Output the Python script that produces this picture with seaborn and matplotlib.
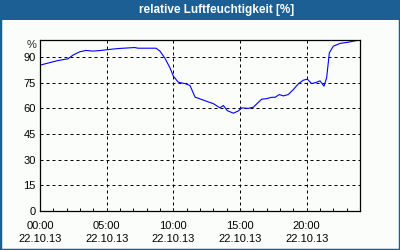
import matplotlib
matplotlib.use("Agg")
import matplotlib.pyplot as plt
import seaborn as sns
import pandas as pd
from matplotlib.patches import Rectangle
from matplotlib.ticker import MultipleLocator
import matplotlib.transforms as mtransforms

# ---- data ----
hours = [0.0, 0.6, 1.35, 2.1, 2.48, 2.98, 3.45, 3.98, 4.58, 5.23, 5.85, 7.1, 7.35,
         8.7, 9.0, 9.38, 9.75, 10.0, 10.37, 10.88, 11.25, 11.63, 12.13, 12.62, 13.0,
         13.5, 13.75, 14.05, 14.5, 14.87, 15.13, 15.62, 16.0, 16.25, 16.63, 17.0,
         17.38, 17.63, 17.95, 18.25, 18.62, 19.0, 19.38, 19.75, 20.05, 20.38, 20.75,
         21.0, 21.3, 21.5, 21.7, 22.0, 22.5, 23.13, 23.75]
humidity = [85.3, 86.5, 88.0, 89.0, 91.2, 93.1, 93.9, 93.5, 93.9, 94.5, 95.0, 95.6, 95.2,
            95.2, 93.5, 89.2, 83.7, 78.9, 75.3, 74.5, 73.4, 66.6, 65.2, 63.8, 62.8,
            60.3, 61.7, 58.7, 57.2, 58.5, 60.3, 60.0, 60.7, 62.6, 65.4, 65.7,
            66.5, 66.5, 68.1, 67.3, 68.1, 71.0, 74.4, 76.5, 77.1, 74.5, 75.3,
            76.1, 73.0, 78.0, 92.5, 96.4, 98.0, 98.7, 99.7]
x_ticks = [0, 5, 10, 15, 20]
x_labels = ["00:00\n22.10.13", "05:00\n22.10.13", "10:00\n22.10.13",
            "15:00\n22.10.13", "20:00\n22.10.13"]
y_ticks = [0, 15, 30, 45, 60, 75, 90]
title = "relative Luftfeuchtigkeit [%]"

df = pd.DataFrame({"hour": hours, "rh": humidity})

sns.set_style("white")
plt.rcParams["font.family"] = ["Liberation Sans", "DejaVu Sans"]

BLUE = "#1c5f95"
BG = "#fbfdfb"

fig = plt.figure(figsize=(4, 2.5), dpi=100)
fig.patch.set_facecolor(BG)
# frame and title bar
fig.patches.append(Rectangle((0, 0), 1, 1, transform=fig.transFigure,
                             facecolor="none", edgecolor=BLUE, linewidth=2.5, zorder=0))
fig.patches.append(Rectangle((0, 1 - 20 / 250), 1, 20 / 250, transform=fig.transFigure,
                             facecolor=BLUE, edgecolor="none", zorder=1))
fig.text(217 / 400, 1 - 10.5 / 250, title, color="white", fontsize=8.5,
         fontweight="bold", ha="center", va="center")

ax = fig.add_axes([40 / 400, 1 - 211 / 250, 320 / 400, 171 / 250])
ax.set_facecolor(BG)
sns.lineplot(data=df, x="hour", y="rh", ax=ax, color="#0000ff", linewidth=0.8)

ax.set_xlim(0, 24)
ax.set_ylim(0, 100)
ax.set_xticks(x_ticks)
ax.set_xticklabels(x_labels, fontsize=8, linespacing=1.35)
ax.xaxis.set_minor_locator(MultipleLocator(1))
ax.set_yticks(y_ticks)
ax.set_yticklabels([str(v) for v in y_ticks], fontsize=8)
ax.tick_params(axis="x", which="both", direction="in", length=2.5, width=0.7,
               pad=7, colors="black", bottom=True)
ax.tick_params(axis="y", length=0, pad=3, colors="black")
ax.set_xlabel("")
ax.set_ylabel("")

for s in ax.spines.values():
    s.set_visible(True)
    s.set_color("black")
    s.set_linewidth(0.9)

ax.grid(True, which="major", color="black", linestyle=(0, (3, 3)), linewidth=0.72)

trans = mtransforms.blended_transform_factory(ax.transAxes, ax.transData)
ax.text(-0.012, 97.3, "%", transform=trans, ha="right", va="center", fontsize=8)

fig.savefig("out.png", dpi=100, facecolor=BG)
